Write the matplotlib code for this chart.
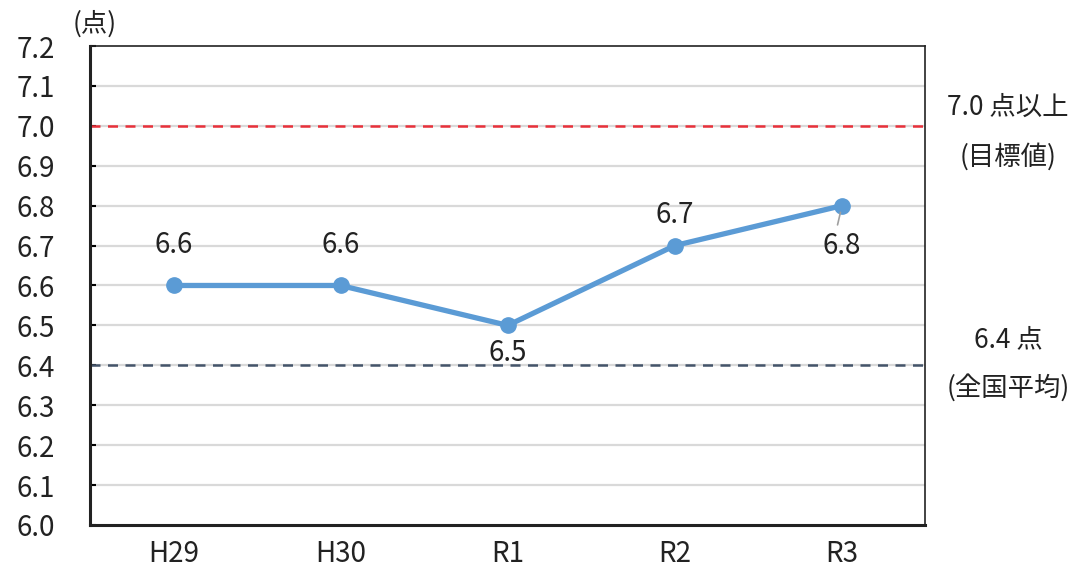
import matplotlib.pyplot as plt
import numpy as np

plt.rcParams['font.family'] = ['Noto Sans CJK JP', 'DejaVu Sans']

# scores by year
years = ['H29', 'H30', 'R1', 'R2', 'R3']
scores = [6.6, 6.6, 6.5, 6.7, 6.8]
target = 7.0
national = 6.4
yticks = [6.0, 6.1, 6.2, 6.3, 6.4, 6.5, 6.6, 6.7, 6.8, 6.9, 7.0, 7.1, 7.2]

# label offsets in points (positive = above the point)
label_dy = [29, 29, -20, 22, -29]

fig = plt.figure(figsize=(10.78, 5.75), dpi=100)
ax = fig.add_axes([0.0835, 0.087, 0.775, 0.833])

x = np.arange(len(years))
ax.set_xlim(-0.5, len(years) - 0.5)
ax.set_ylim(6.0, 7.2)

for t in yticks[1:-1]:
    ax.axhline(t, color='#d9d9d9', lw=1.6, zorder=1)

ax.axhline(target, color='#e8303a', lw=1.8, ls=(0, (4, 3)), zorder=2)
ax.axhline(national, color='#44546a', lw=1.8, ls=(0, (4, 3)), zorder=2)

ax.plot(x, scores, color='#5b9bd5', lw=3.8, marker='o', ms=11, zorder=3)

for xi, v, dy in zip(x, scores, label_dy):
    ax.annotate(f'{v:.1f}', (xi, v), xytext=(0, dy), textcoords='offset points',
                ha='center', va='center', fontsize=20, color='#222222')

# small leader line for the last label
ax.annotate('', xy=(x[-1] - 0.005, scores[-1] - 0.01), xytext=(x[-1] - 0.03, scores[-1] - 0.055),
            arrowprops=dict(arrowstyle='-', color='#a0a0a0', lw=1.2), zorder=4)

ax.set_yticks(yticks)
ax.set_yticklabels([f'{t:.1f}' for t in yticks], fontsize=20, color='#222222')
ax.set_xticks(x)
ax.set_xticklabels(years, fontsize=20, color='#222222')
ax.tick_params(axis='y', direction='in', length=4, width=1.5, pad=25)
ax.tick_params(axis='x', length=0, pad=10)

for side in ['left', 'bottom']:
    ax.spines[side].set_linewidth(2.2)
    ax.spines[side].set_color('#222222')
for side in ['top', 'right']:
    ax.spines[side].set_linewidth(1.2)
    ax.spines[side].set_color('#222222')

fig.text(0.088, 0.958, '(点)', ha='center', va='center', fontsize=19, color='#222222')

fig.text(0.935, 0.813, '7.0 点以上', ha='center', va='center', fontsize=19, color='#222222')
fig.text(0.935, 0.727, '(目標値)', ha='center', va='center', fontsize=19, color='#222222')
fig.text(0.935, 0.41, '6.4 点', ha='center', va='center', fontsize=19, color='#222222')
fig.text(0.935, 0.325, '(全国平均)', ha='center', va='center', fontsize=19, color='#222222')

fig.savefig('out.png', dpi=100)
